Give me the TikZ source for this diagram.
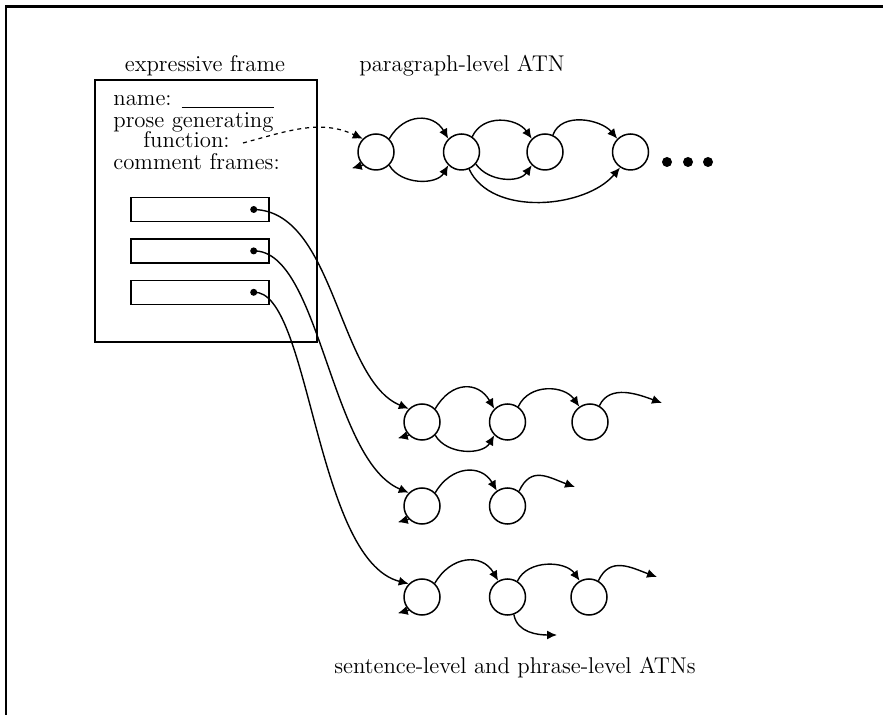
\documentclass[tikz,border=0pt]{standalone}
\usepackage{tikz}
\usetikzlibrary{arrows.meta,positioning}

\begin{document}
\begin{tikzpicture}[
  x=0.5pt, y=0.5pt,
  node distance=24pt,
  state/.style={draw, circle, line width=0.75pt, minimum size=18pt, inner sep=0pt},
  slot/.style={draw, line width=0.7pt, minimum width=69pt, minimum height=12pt, inner sep=0pt},
  dot/.style={circle, fill, inner sep=0pt, minimum size=3.5pt},
  bigdot/.style={circle, fill, inner sep=0pt, minimum size=5pt},
  txt/.style={font=\fontsize{11.4}{13}\selectfont, inner sep=0pt},
  arrow/.style={-{Latex[length=5pt,width=4.5pt]}, line width=0.7pt}
]
\useasboundingbox (0,0) rectangle (883,-715);
\draw[line width=1.35pt] (883,-6.3) -- (6,-6.3) -- (6,-715);

% expressive frame
\node[txt, anchor=base] (eflabel) at (205,-72) {expressive frame};
\node[draw, line width=0.7pt, minimum width=111pt, minimum height=131pt, inner sep=0pt] (ef) at (206,-211) {};
\node[txt, anchor=base west] (nm) at (113,-106) {name: \rule[-1pt]{46pt}{0.6pt}};
\node[txt, anchor=base west] (pg) at (113,-128) {prose generating};
\node[txt, anchor=base west] (fn) at (143,-148) {function:};
\node[txt, anchor=base west] (cf) at (113,-170) {comment frames:};
\coordinate (fnend) at (243,-143);
\node[slot] (s1) at (200,-209.5) {};
\node[slot, below=8pt of s1] (s2) {};
\node[slot, below=8pt of s2] (s3) {};
\node[dot] (d1) at ([xshift=-8pt]s1.east) {};
\node[dot] (d2) at ([xshift=-8pt]s2.east) {};
\node[dot] (d3) at ([xshift=-8pt]s3.east) {};

% paragraph-level ATN
\node[txt, anchor=base] (palabel) at (462,-72) {paragraph-level ATN};
\node[state] (p1) at (376,-152) {};
\node[state, right=of p1] (p2) {};
\node[state, right=23pt of p2] (p3) {};
\node[state, right=of p3] (p4) {};
\node[bigdot] (e1) at (667,-162) {};
\node[bigdot] (e2) at (688,-162) {};
\node[bigdot] (e3) at (708,-162) {};
\draw[arrow, dash pattern=on 2pt off 2pt, line width=0.6pt] (fnend) to[out=15,in=155] (p1.135);
\draw[arrow] (p1.225) -- ++(-11,-3);
\draw[arrow] (p1.45) to[out=60,in=120,looseness=1.3] (p2.135);
\draw[arrow] (p1.-45) to[out=-60,in=-120] (p2.-135);
\draw[arrow] (p2.55) to[out=65,in=125,looseness=1.1] (p3.135);
\draw[arrow] (p2.-40) to[out=-55,in=-125] (p3.-135);
\draw[arrow] (p3.65) to[out=70,in=130] (p4.135);
\draw[arrow] (p2.-66) to[out=-65,in=-130,looseness=0.9] (p4.-124);

% sentence-level and phrase-level ATNs
\node[state] (a1) at (422,-422) {};
\node[state, right=of a1] (a2) {};
\node[state, right=22.5pt of a2] (a3) {};
\coordinate (aend) at (662,-403);
\node[state] (b1) at (422,-506) {};
\node[state, right=of b1] (b2) {};
\coordinate (bend) at (575,-487);
\node[state] (c1) at (422,-597) {};
\node[state, right=of c1] (c2) {};
\node[state, right=22pt of c2] (c3) {};
\coordinate (cend) at (657,-577);
\coordinate (cdown) at (557,-635);
\node[txt, anchor=base] (salabel) at (515,-673) {sentence-level and phrase-level ATNs};

\draw[arrow] (a1.225) -- ++(-11,-3);
\draw[arrow] (a1.45) to[out=60,in=120,looseness=1.4] (a2.135);
\draw[arrow] (a1.-45) to[out=-60,in=-120] (a2.-135);
\draw[arrow] (a2.55) to[out=65,in=125,looseness=1.1] (a3.125);
\draw[arrow] (a3.60) to[out=65,in=160] (aend);

\draw[arrow] (b1.225) -- ++(-11,-3);
\draw[arrow] (b1.45) to[out=60,in=120,looseness=1.3] (b2.125);
\draw[arrow] (b2.52) to[out=65,in=160,looseness=1.3] (bend);

\draw[arrow] (c1.225) -- ++(-11,-3);
\draw[arrow] (c1.47) to[out=60,in=120,looseness=1.3] (c2.120);
\draw[arrow] (c2.58) to[out=65,in=125] (c3.120);
\draw[arrow] (c3.60) to[out=65,in=160,looseness=1.2] (cend);
\draw[arrow] (c2.-70) to[out=-80,in=180] (cdown);

% comment frames to their ATNs
\draw[arrow] (d1.center) .. controls (335,-211) and (338,-380) .. (a1.135);
\draw[arrow] (d2.center) .. controls (320,-250) and (330,-460) .. (b1.135);
\draw[arrow] (d3.center) .. controls (310,-289) and (315,-560) .. (c1.135);
\end{tikzpicture}
\end{document}
